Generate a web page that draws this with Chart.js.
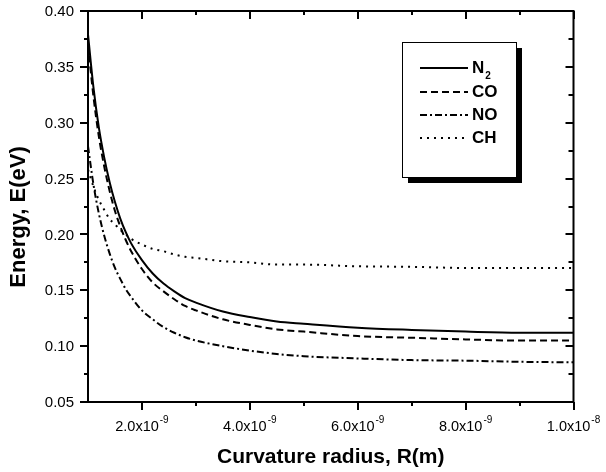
<!DOCTYPE html>
<html>
<head>
<meta charset="utf-8">
<script src="https://cdn.jsdelivr.net/npm/chart.js@4/dist/chart.umd.min.js"></script>
<style>
  html, body { margin: 0; padding: 0; background: #fff; }
  #wrap { width: 606px; height: 472px; }
</style>
</head>
<body>
<div id="wrap"><canvas id="energyChart" width="606" height="472"></canvas></div>
<script>
// Curvature radius R (m)
const radius = [
  1.0e-9, 1.1e-9, 1.2e-9, 1.3e-9, 1.4e-9, 1.5e-9, 1.6e-9, 1.7e-9, 1.8e-9,
  2.0e-9, 2.2e-9, 2.4e-9, 2.6e-9, 2.8e-9, 3.0e-9, 3.5e-9, 4.0e-9, 4.5e-9,
  5.0e-9, 6.0e-9, 7.0e-9, 8.0e-9, 9.0e-9, 1.0e-8,
];

// Energy E (eV)
const energyN2 = [
  0.379, 0.332, 0.296, 0.269, 0.247, 0.229, 0.214, 0.202, 0.192,
  0.177, 0.165, 0.156, 0.149, 0.143, 0.139, 0.131, 0.126, 0.122,
  0.120, 0.1165, 0.1145, 0.113, 0.112, 0.112,
];
const energyCO = [
  0.370, 0.324, 0.288, 0.261, 0.239, 0.221, 0.207, 0.195, 0.185,
  0.169, 0.157, 0.149, 0.142, 0.136, 0.132, 0.124, 0.119, 0.115,
  0.113, 0.109, 0.1075, 0.106, 0.105, 0.105,
];
const energyNO = [
  0.279, 0.245, 0.219, 0.199, 0.183, 0.170, 0.160, 0.151, 0.144,
  0.132, 0.124, 0.117, 0.112, 0.108, 0.105, 0.100, 0.096, 0.093,
  0.091, 0.089, 0.0875, 0.087, 0.086, 0.0855,
];
const energyCH = [
  0.258, 0.243, 0.231, 0.222, 0.214, 0.209, 0.204, 0.200, 0.196,
  0.191, 0.187, 0.185, 0.182, 0.180, 0.179, 0.176, 0.175, 0.173,
  0.173, 0.1715, 0.171, 0.170, 0.170, 0.170,
];

const seriesNames = ["N2", "CO", "NO", "CH"];

// Axis ticks
const xMajorTicks = [2e-9, 4e-9, 6e-9, 8e-9, 1e-8];
const xTickMantissa = ["2.0x10", "4.0x10", "6.0x10", "8.0x10", "1.0x10"];
const xTickExponent = ["-9", "-9", "-9", "-9", "-8"];
const xMinorTicks = [3e-9, 5e-9, 7e-9, 9e-9];
const yMajorTicks = [0.05, 0.10, 0.15, 0.20, 0.25, 0.30, 0.35, 0.40];
const yTickLabels = ["0.05", "0.10", "0.15", "0.20", "0.25", "0.30", "0.35", "0.40"];
const yMinorTicks = [0.075, 0.125, 0.175, 0.225, 0.275, 0.325, 0.375];

const xTitle = "Curvature radius, R(m)";
const yTitle = "Energy, E(eV)";

const lineStyles = [
  { dash: [], width: 2 },
  { dash: [7, 4], width: 2 },
  { dash: [7, 3, 2, 3], width: 2 },
  { dash: [2, 5], width: 2 },
];

function toPoints(ys) {
  return radius.map((r, i) => ({ x: r, y: ys[i] }));
}

const FONT = "'Liberation Sans', Arial, Helvetica, sans-serif";

// draws the frame, ticks, labels, titles and legend box
const frameAndLegend = {
  id: "frameAndLegend",
  afterDatasetsDraw(chart) {
    const ctx = chart.ctx;
    const area = chart.chartArea;
    const xs = chart.scales.x;
    const ys = chart.scales.y;

    ctx.save();
    ctx.setLineDash([]);
    ctx.strokeStyle = "#000";
    ctx.fillStyle = "#000";

    // frame
    ctx.lineWidth = 2;
    ctx.strokeRect(area.left, area.top, area.right - area.left, area.bottom - area.top);

    const seg = (x1, y1, x2, y2) => {
      ctx.beginPath();
      ctx.moveTo(x1, y1);
      ctx.lineTo(x2, y2);
      ctx.stroke();
    };

    // x ticks: outward at bottom, inward at top
    xMajorTicks.forEach((v) => {
      const px = Math.round(xs.getPixelForValue(v));
      seg(px, area.bottom, px, area.bottom + 8);
      seg(px, area.top, px, area.top + 8);
    });
    xMinorTicks.forEach((v) => {
      const px = Math.round(xs.getPixelForValue(v));
      seg(px, area.bottom, px, area.bottom + 4);
      seg(px, area.top, px, area.top + 4);
    });
    // y ticks: outward at left, inward at right
    yMajorTicks.forEach((v) => {
      const py = Math.round(ys.getPixelForValue(v));
      seg(area.left - 8, py, area.left, py);
      seg(area.right, py, area.right - 8, py);
    });
    yMinorTicks.forEach((v) => {
      const py = Math.round(ys.getPixelForValue(v));
      seg(area.left - 4, py, area.left, py);
      seg(area.right, py, area.right - 5, py);
    });

    // y tick labels
    ctx.font = "15px " + FONT;
    ctx.textAlign = "right";
    ctx.textBaseline = "middle";
    yMajorTicks.forEach((v, i) => {
      ctx.fillText(yTickLabels[i], area.left - 14, ys.getPixelForValue(v) + 1);
    });

    // x tick labels with superscript exponent
    ctx.textBaseline = "alphabetic";
    ctx.textAlign = "left";
    xMajorTicks.forEach((v, i) => {
      ctx.font = "14.5px " + FONT;
      const w1 = ctx.measureText(xTickMantissa[i]).width;
      ctx.font = "10px " + FONT;
      const w2 = ctx.measureText(xTickExponent[i]).width;
      const start = xs.getPixelForValue(v) - (w1 + w2 + 1) / 2;
      ctx.font = "14.5px " + FONT;
      ctx.fillText(xTickMantissa[i], start, 431);
      ctx.font = "10px " + FONT;
      ctx.fillText(xTickExponent[i], start + w1 + 1, 423);
    });

    // axis titles
    ctx.font = "bold 21px " + FONT;
    ctx.textAlign = "center";
    ctx.fillText(xTitle, (area.left + area.right) / 2, 463);
    ctx.save();
    ctx.translate(25, 217);
    ctx.rotate(-Math.PI / 2);
    ctx.font = "bold 22px " + FONT;
    ctx.fillText(yTitle, 0, 0);
    ctx.restore();

    // legend box with drop shadow
    const bx = 402, by = 42, bw = 114, bh = 135;
    ctx.fillRect(bx + 6, by + 6, bw, bh);
    ctx.fillStyle = "#fff";
    ctx.fillRect(bx, by, bw, bh);
    ctx.lineWidth = 1;
    ctx.strokeRect(bx + 0.5, by + 0.5, bw, bh);
    ctx.fillStyle = "#000";

    const rowY = [68, 92, 115, 138];
    chart.data.datasets.forEach((ds, i) => {
      const y = rowY[i];
      ctx.lineWidth = ds.borderWidth;
      ctx.setLineDash(ds.borderDash);
      seg(420, y, 468, y);
      ctx.setLineDash([]);
      ctx.font = "bold 17px " + FONT;
      ctx.textAlign = "left";
      ctx.textBaseline = "middle";
      const name = seriesNames[i];
      if (name === "N2") {
        ctx.fillText("N", 472, y);
        const wn = ctx.measureText("N").width;
        ctx.font = "bold 10px " + FONT;
        ctx.fillText("2", 472 + wn + 1, y + 8);
      } else {
        ctx.fillText(name, 472, y);
      }
    });

    ctx.restore();
  },
};

const datasets = [energyN2, energyCO, energyNO, energyCH].map((vals, i) => ({
  label: seriesNames[i],
  data: toPoints(vals),
  borderColor: "#000",
  borderWidth: lineStyles[i].width,
  borderDash: lineStyles[i].dash,
  pointRadius: 0,
  fill: false,
  cubicInterpolationMode: "monotone",
}));

new Chart(document.getElementById("energyChart").getContext("2d"), {
  type: "line",
  data: { datasets: datasets },
  options: {
    responsive: false,
    animation: false,
    devicePixelRatio: 1,
    layout: { padding: { left: 88, top: 11, right: 32.5, bottom: 70 } },
    plugins: {
      legend: { display: false },
      tooltip: { enabled: false },
    },
    scales: {
      x: { type: "linear", min: 1e-9, max: 1e-8, display: false },
      y: { type: "linear", min: 0.05, max: 0.40, display: false },
    },
  },
  plugins: [frameAndLegend],
});
</script>
</body>
</html>
